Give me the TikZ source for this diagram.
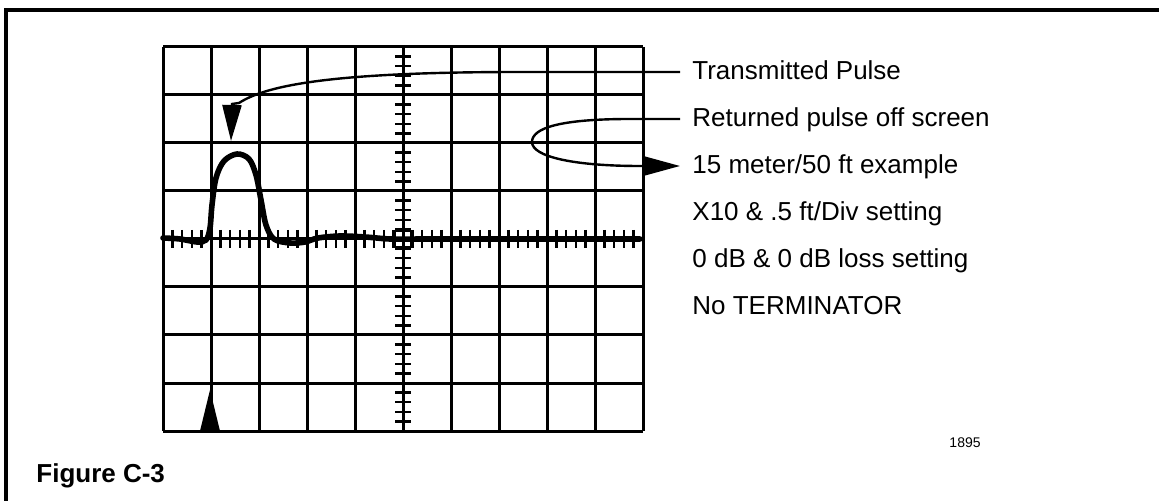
\documentclass[tikz,border=0pt]{standalone}
\usepackage{fontspec}
\setmainfont{Liberation Sans}
\usetikzlibrary{arrows.meta}

\begin{document}
\begin{tikzpicture}[x=0.5pt,y=-0.5pt,
  gridline/.style={line width=1.5pt},
  tick/.style={line width=1.2pt},
  trace/.style={line width=2.8pt,line join=round,line cap=round},
  lead/.style={line width=1.2pt,-{Triangle[length=18pt,width=9.5pt]}},
  label/.style={anchor=west,inner xsep=6pt,inner ysep=0pt,text height=0.72em,
    text depth=0pt,font=\fontsize{13}{15}\selectfont}]
  \useasboundingbox (0,0) rectangle (1159,501);

  % Frame (only top and left edges show)
  \draw[line width=1.6pt] (6,501) -- (6,10) -- (1159,10);

  % Screen graticule, 10 x 8 divisions
  \foreach \i in {0,...,10}
    \draw[gridline] (163+48*\i,47) -- (163+48*\i,431);
  \foreach \j in {0,...,8}
    \draw[gridline] (163,47+48*\j) -- (643,47+48*\j);

  % Minor ticks on the centre axes
  \foreach \i in {1,...,49}
    \draw[tick] (163+9.6*\i,230) -- (163+9.6*\i,248);
  \foreach \j in {1,...,39}
    \draw[tick] (395,47+9.6*\j) -- (411,47+9.6*\j);
  \draw[tick] (395,231) rectangle (411,247);

  % Trace with the transmitted pulse
  \draw[trace] plot[smooth,tension=0.55] coordinates {(163,238) (180,239)
    (197,242) (206,240) (210,228) (212,205) (216,178) (224,161) (237,154)
    (249,159) (256,175) (261,200) (266,225) (274,239) (290,243) (305,242)
    (318,238) (340,236) (365,237) (390,239) (420,239)} -- (640,239);

  % Cursor marker at the bottom
  \fill (200,431) -- (210,390) -- (220,431) -- cycle;

  % Labels
  \node[label] (tx) at (680,72) {Transmitted Pulse};
  \node[label] (rt) at (680,119) {Returned pulse off screen};
  \node[label] (ex) at (680,166) {15 meter/50 ft example};
  \node[label] (st) at (680,213) {X10 \& .5 ft/Div setting};
  \node[label] (db) at (680,260) {0 dB \& 0 dB loss setting};
  \node[label] (nt) at (680,307) {No TERMINATOR};

  % Leaders
  \coordinate (txtip) at (231,141);
  \draw[lead] (tx.west) -- (520,72) .. controls (340,72) and (268,84)
    .. (239,103) -- (232,104) -- (txtip);
  \draw[lead] (rt.west) -- (630,119) .. controls (560,119) and (532,128)
    .. (532,142) .. controls (532,157) and (575,166) .. (640,166) -- (ex.west);

  \node[anchor=base east,inner sep=0pt,font=\fontsize{7}{8}\selectfont] (num)
    at (981,447) {1895};
  \node[anchor=base west,inner sep=0pt,font=\bfseries\fontsize{13}{15}\selectfont]
    (fig) at (36,482) {Figure C-3};
\end{tikzpicture}
\end{document}
